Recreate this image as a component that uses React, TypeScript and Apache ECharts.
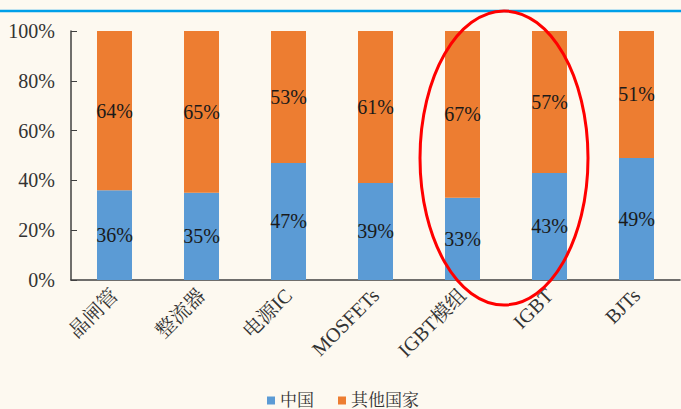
import React, { useEffect, useRef } from "react";
import * as echarts from "echarts";

const categories = ["晶闸管", "整流器", "电源IC", "MOSFETs", "IGBT模组", "IGBT", "BJTs"];
const chinaValues = [36, 35, 47, 39, 33, 43, 49];
const otherValues = [64, 65, 53, 61, 67, 57, 51];
const seriesNames = ["中国", "其他国家"];

const serif = "'Liberation Serif', 'Times New Roman', 'Noto Serif CJK SC', 'Noto Sans CJK SC', serif";

export default function App() {
  const ref = useRef<HTMLDivElement>(null);
  useEffect(() => {
    if (!ref.current) return;
    const chart = echarts.init(ref.current, null, { renderer: "svg" });
    const labelCfg = {
      show: true,
      position: "inside",
      formatter: (p: any) => p.value + "%",
      fontFamily: serif,
      fontSize: 20,
      color: "#1a1a1a",
    };
    chart.setOption({
      animation: false,
      backgroundColor: "#fdf9f0",
      grid: { left: 71, right: 1, top: 31, bottom: 129 },
      legend: {
        top: 392,
        left: 267,
        padding: 0,
        itemWidth: 8,
        itemHeight: 8,
        itemGap: 24,
        icon: "rect",
        textStyle: { fontFamily: serif, fontSize: 17, lineHeight: 16, color: "#333" },
        data: seriesNames,
      },
      xAxis: {
        type: "category",
        data: categories,
        axisLine: { lineStyle: { color: "#404040", width: 1.5 } },
        axisTick: { inside: true, length: 5, lineStyle: { color: "#404040" } },
        axisLabel: {
          rotate: 45,
          fontFamily: serif,
          fontSize: 20,
          color: "#333",
          margin: 12,
          interval: 0,
        },
      },
      yAxis: {
        type: "value",
        min: 0,
        max: 100,
        interval: 20,
        splitLine: { show: false },
        axisLine: { show: true, lineStyle: { color: "#404040", width: 1.5 } },
        axisTick: { show: true, inside: true, length: 6, lineStyle: { color: "#404040" } },
        axisLabel: {
          formatter: "{value}%",
          fontFamily: serif,
          fontSize: 20,
          color: "#333",
          margin: 16,
        },
      },
      series: [
        {
          name: seriesNames[0],
          type: "bar",
          stack: "total",
          barWidth: 35,
          data: chinaValues,
          itemStyle: { color: "#5b9bd5" },
          label: labelCfg,
        },
        {
          name: seriesNames[1],
          type: "bar",
          stack: "total",
          barWidth: 35,
          data: otherValues,
          itemStyle: { color: "#ed7d31" },
          label: labelCfg,
        },
      ],
      graphic: [
        {
          type: "line",
          shape: { x1: 0, y1: 11, x2: 681, y2: 11 },
          style: { stroke: "#00a0e9", lineWidth: 2.5 },
          z: 10,
        },
        {
          type: "ellipse",
          shape: { cx: 504, cy: 158, rx: 84, ry: 147 },
          style: { fill: null, stroke: "#ff0000", lineWidth: 3 },
          z: 10,
        },
      ],
    });
    return () => chart.dispose();
  }, []);
  return (
    <div
      ref={ref}
      style={{ position: "absolute", left: 0, top: 0, width: 681, height: 409 }}
    />
  );
}
